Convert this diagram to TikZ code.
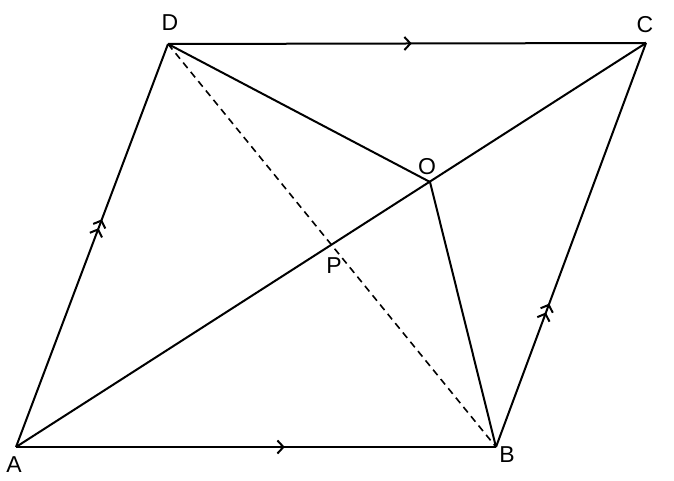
\documentclass[tikz,border=0pt]{standalone}
\usepackage{fontspec}
\setmainfont{Liberation Sans}
\usetikzlibrary{decorations.markings,arrows.meta}
\begin{document}
\begin{tikzpicture}[x=1pt,y=-1pt,line width=2pt,
  edge/.style={draw,line join=miter},
  barb/.style={},
  onearrow/.style={postaction={decorate},decoration={markings,
     mark=at position #1 with {\arrow{Straight Barb[length=6pt,width=13pt,line width=2pt]}}}},
  twoarrow/.style={postaction={decorate},decoration={markings,
     mark=at position #1 with {\arrow{Straight Barb[length=6pt,width=13pt,line width=2pt]}},
     mark=at position #1-0.022 with {\arrow{Straight Barb[length=6pt,width=13pt,line width=2pt]}}}},
  lbl/.style={font=\fontsize{23}{26}\selectfont,inner sep=0pt}]
\useasboundingbox (0,0) rectangle (674,481);
\coordinate (A) at (16,447);
\coordinate (B) at (496,447);
\coordinate (C) at (646,43);
\coordinate (D) at (168,44);
\coordinate (O) at (430,182);
\coordinate (P) at (intersection of A--C and D--B);
\draw[edge,onearrow=0.56] (A) -- (B);
\draw[edge,onearrow=0.51] (D) -- (C);
\draw[edge,twoarrow=0.565] (A) -- (D);
\draw[edge,twoarrow=0.355] (B) -- (C);
\draw[edge] (A) -- (C);
\draw[edge] (D) -- (O) -- (B);
\draw[dashed,dash pattern=on 7pt off 5pt,line width=1.6pt] (D) -- (B);
\node[lbl] (lA) at (14,465) {A};
\node[lbl] (lB) at (507,455) {B};
\node[lbl] (lC) at (645,25) {C};
\node[lbl] (lD) at (170,23) {D};
\node[lbl] (lO) at (427,167) {O};
\node[lbl] (lP) at (334,266) {P};
\end{tikzpicture}
\end{document}
